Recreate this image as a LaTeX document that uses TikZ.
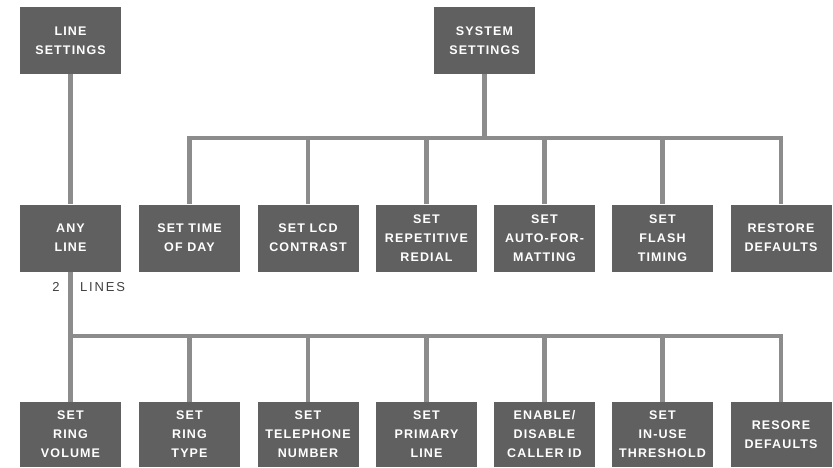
\documentclass[tikz,border=0pt]{standalone}
\usepackage{fontspec}
\setmainfont{Liberation Sans}
\newfontfamily\boxfont[LetterSpace=9]{Liberation Sans}
\newfontfamily\lblfont[LetterSpace=14]{Liberation Sans}
\begin{document}
\begin{tikzpicture}[x=1pt,y=-1pt,
  box/.style={draw=none,fill=boxgray,minimum width=101pt,minimum height=67pt,inner sep=0pt,
    align=center,text=white,font=\boxfont\fontsize{12.5}{19}\selectfont\bfseries},
  wire/.style={draw=wiregray,line width=4.5pt},
  lbl/.style={text=labelgray,font=\lblfont\fontsize{13}{15}\selectfont,inner sep=0pt}]
\definecolor{boxgray}{HTML}{606060}
\definecolor{wiregray}{HTML}{8C8C8C}
\definecolor{labelgray}{HTML}{404040}
\useasboundingbox (0,0) rectangle (833,467);
% top row
\node[box] (line) at (70.5,40.5) {LINE\\SETTINGS};
\node[box] (sys) at (484.5,40.5) {SYSTEM\\SETTINGS};
% middle row
\node[box] (any) at (70.5,238) {ANY\\LINE};
\node[box] (time) at (189.5,238) {SET TIME\\OF DAY};
\node[box] (lcd) at (308,238) {SET LCD\\CONTRAST};
\node[box] (redial) at (426.5,238) {SET\\REPETITIVE\\REDIAL};
\node[box] (auto) at (544.5,238) {SET\\AUTO-FOR-\\MATTING};
\node[box] (flash) at (662.5,238) {SET\\FLASH\\TIMING};
\node[box] (rest1) at (781,238) {RESTORE\\DEFAULTS};
% bottom row
\node[box,minimum height=65pt] (vol) at (70.5,434.5) {SET\\RING\\VOLUME};
\node[box,minimum height=65pt] (type) at (189.5,434.5) {SET\\RING\\TYPE};
\node[box,minimum height=65pt] (tel) at (308,434.5) {SET\\TELEPHONE\\NUMBER};
\node[box,minimum height=65pt] (prim) at (426.5,434.5) {SET\\PRIMARY\\LINE};
\node[box,minimum height=65pt] (cid) at (544.5,434.5) {ENABLE/\\DISABLE\\CALLER ID};
\node[box,minimum height=65pt] (inuse) at (662.5,434.5) {SET\\IN-USE\\THRESHOLD};
\node[box,minimum height=65pt] (rest2) at (781,434.5) {RESORE\\DEFAULTS};
% labels
\node[lbl] (two) at (56,287) {2};
\node[lbl,anchor=west] (lines) at (80,287) {LINES};
% bus coordinates
\coordinate (b1) at (484.5,138);
\coordinate (b2) at (70.5,336);
% connectors
\draw[wire] (line.south) -- (any.north);
\draw[wire] (any.south) -- (vol.north);
\draw[wire] (sys.south) -- (b1);
\foreach \c in {time,lcd,redial,auto,flash,rest1} {\draw[wire] (b1) -| (\c.north);}
\foreach \c in {type,tel,prim,cid,inuse,rest2} {\draw[wire] (b2) -| (\c.north);}
\end{tikzpicture}
\end{document}
